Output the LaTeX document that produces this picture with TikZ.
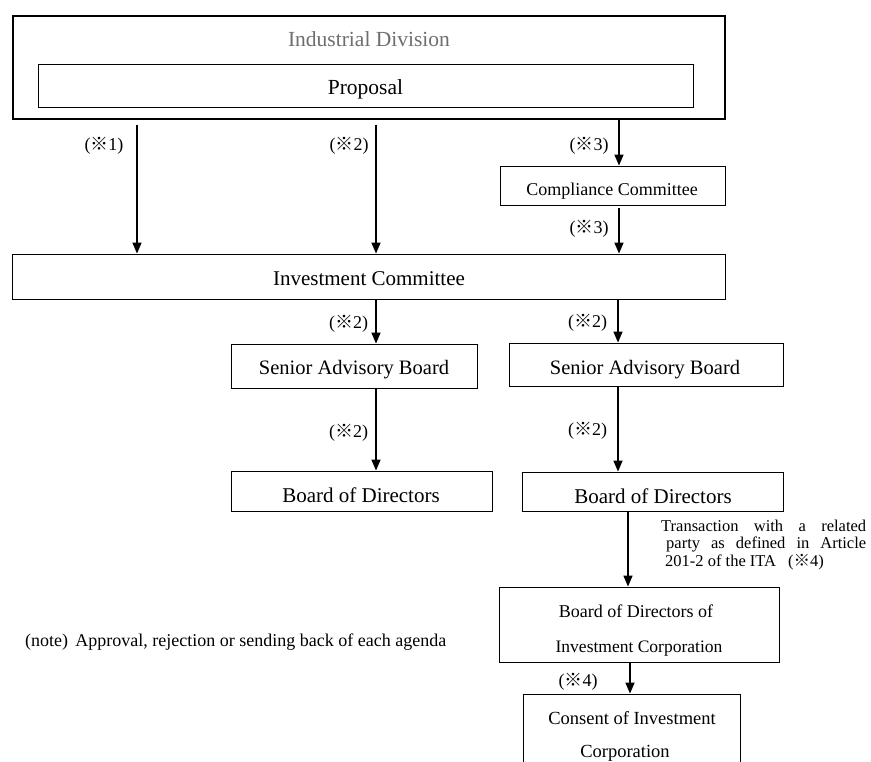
\documentclass[tikz,border=0pt]{standalone}
\usepackage{fontspec}
\setmainfont{Liberation Serif}
\newfontfamily\cjkfont{Noto Sans CJK JP}
\usetikzlibrary{arrows.meta}
\newcommand{\kome}{\smash{\cjkfont ※}}
\definecolor{divgray}{HTML}{6E6E6E}
\begin{document}
\begin{tikzpicture}[x=1pt,y=-1pt,
  box/.style={draw, line width=0.85pt, inner sep=0pt},
  txtA/.style={inner sep=0pt, anchor=base, font=\fontsize{21}{25}\selectfont},
  txtB/.style={inner sep=0pt, anchor=base, font=\fontsize{18}{22}\selectfont},
  lbl/.style={inner sep=0pt, anchor=base, font=\fontsize{18}{22}\selectfont},
  trtxt/.style={inner sep=0pt, anchor=base west, font=\fontsize{16.5}{19}\selectfont},
  arr/.style={line width=1.5pt, -{Triangle[length=11pt,width=9pt]}}]
\useasboundingbox (0,0) rectangle (871,762);
\clip (0,0) rectangle (871,762);
\fill[white] (0,0) rectangle (871,762);

% boxes
\node[box, line width=1.05pt, minimum width=712pt, minimum height=103pt] (div) at (369,67.5) {};
\node[txtA, text=divgray, font=\fontsize{21.5}{25}\selectfont] (divt) at (369,46.5) {Industrial Division};
\node[box, minimum width=655pt, minimum height=43pt] (prop) at (365.5,85.5) {};
\node[txtA, font=\fontsize{21.5}{25}\selectfont] (propt) at (365.5,95) {Proposal};
\node[box, minimum width=225pt, minimum height=39pt] (comp) at (612.5,185.5) {};
\node[txtB] (compt) at (612,195.5) {Compliance Committee};
\node[box, minimum width=713pt, minimum height=45pt] (ic) at (368.5,276.5) {};
\node[txtA] (ict) at (369,285.5) {Investment Committee};
\node[box, minimum width=246pt, minimum height=44pt] (sab1) at (354,366) {};
\node[txtA, font=\fontsize{20.5}{25}\selectfont] (sab1t) at (354,374) {Senior Advisory Board};
\node[box, minimum width=261pt, minimum height=40pt] (bod1) at (361.5,491) {};
\node[txtA] (bod1t) at (361,502) {Board of Directors};
\node[box, minimum width=274pt, minimum height=43pt] (sab2) at (646,364.5) {};
\node[txtA, font=\fontsize{20.5}{25}\selectfont] (sab2t) at (645,374) {Senior Advisory Board};
\node[box, minimum width=261pt, minimum height=39pt] (bod2) at (652.5,491.5) {};
\node[txtA] (bod2t) at (653,503) {Board of Directors};
\node[box, minimum width=280pt, minimum height=75pt] (bodic) at (639,624.5) {};
\node[txtB] (bodict1) at (636,617) {Board of Directors of};
\node[txtB, font=\fontsize{17.5}{22}\selectfont] (bodict2) at (639,652) {Investment Corporation};
\node[box, minimum width=217pt, minimum height=80pt] (cons) at (631.5,734) {};
\node[txtB, font=\fontsize{18.5}{22}\selectfont] (const1) at (632,724) {Consent of Investment};
\node[txtB, font=\fontsize{18.5}{22}\selectfont] (const2) at (625,757) {Corporation};

% column coordinates
\coordinate (x1) at (137,0);
\coordinate (x2) at (376,0);
\coordinate (x3) at (619,0);
\coordinate (x4) at (618,0);
\coordinate (x5) at (628,0);
\coordinate (x6) at (630,0);

% connectors
\draw[arr, shorten <=5pt] (div.south -| x1) -- (ic.north -| x1);
\draw[arr, shorten <=5pt] (div.south -| x2) -- (ic.north -| x2);
\draw[arr] (div.south -| x3) -- (comp.north -| x3);
\draw[arr, shorten <=3pt] (comp.south -| x3) -- (ic.north -| x3);
\draw[arr] (ic.south -| x2) -- (sab1.north -| x2);
\draw[arr] (sab1.south -| x2) -- (bod1.north -| x2);
\draw[arr] (ic.south -| x4) -- (sab2.north -| x4);
\draw[arr] (sab2.south -| x4) -- (bod2.north -| x4);
\draw[arr] (bod2.south -| x5) -- (bodic.north -| x5);
\draw[arr] (bodic.south -| x6) -- (cons.north -| x6);

% connector labels
\node[lbl] (l1) at (104,151) {(\kome1)};
\node[lbl] (l2) at (349,151) {(\kome2)};
\node[lbl] (l3) at (589,151) {(\kome3)};
\node[lbl] (l4) at (589,234) {(\kome3)};
\node[lbl] (l5) at (348.5,329) {(\kome2)};
\node[lbl] (l6) at (348.5,437) {(\kome2)};
\node[lbl] (l7) at (587.5,328) {(\kome2)};
\node[lbl] (l8) at (587.5,435) {(\kome2)};
\node[lbl] (l9) at (578,686) {(\kome4)};

% transaction note
\node[trtxt] (tr1) at (661,531) {\makebox[205pt][s]{Transaction with a related}};
\node[trtxt] (tr2) at (666,548) {\makebox[200pt][s]{party as defined in Article}};
\node[trtxt] (tr3) at (665,566) {201-2 of the ITA\hspace{12pt}(\kome4)};

% footnote
\node[txtB, anchor=base west] (note) at (25,646) {(note)\hspace{0.4em}Approval, rejection or sending back of each agenda};
\end{tikzpicture}
\end{document}
